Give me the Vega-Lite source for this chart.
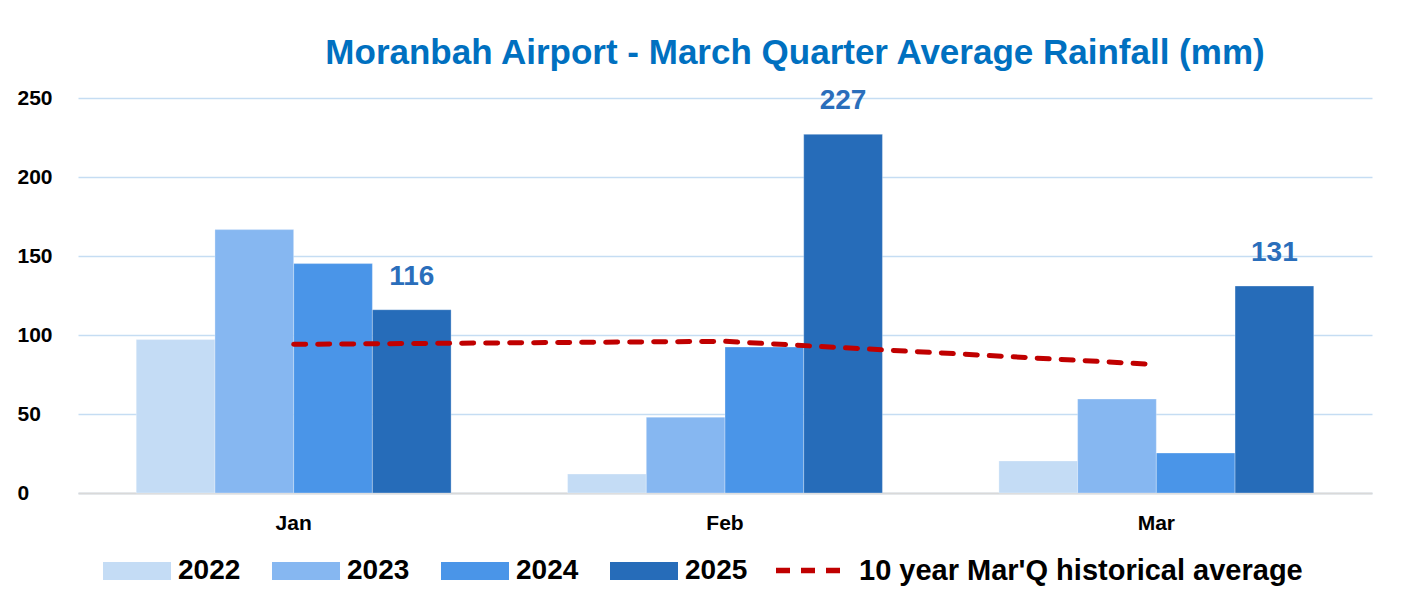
{
  "$schema": "https://vega.github.io/schema/vega-lite/v6.json",
  "width": 1294,
  "height": 395,
  "autosize": {"type": "none"},
  "padding": {"left": 78, "top": 98, "right": 33, "bottom": 112},
  "background": "white",
  "title": {
    "text": "Moranbah Airport - March Quarter Average Rainfall (mm)",
    "anchor": "middle",
    "dx": 70,
    "offset": 16,
    "font": "Liberation Sans",
    "fontSize": 35,
    "fontWeight": "bold",
    "color": "#0070C0"
  },
  "datasets": {
    "bars": [
      {"month": "Jan", "year": "2022", "value": 97.1},
      {"month": "Jan", "year": "2023", "value": 166.7},
      {"month": "Jan", "year": "2024", "value": 145.2},
      {"month": "Jan", "year": "2025", "value": 116},
      {"month": "Feb", "year": "2022", "value": 12},
      {"month": "Feb", "year": "2023", "value": 48},
      {"month": "Feb", "year": "2024", "value": 92.4},
      {"month": "Feb", "year": "2025", "value": 227},
      {"month": "Mar", "year": "2022", "value": 20.3},
      {"month": "Mar", "year": "2023", "value": 59.5},
      {"month": "Mar", "year": "2024", "value": 25.3},
      {"month": "Mar", "year": "2025", "value": 131}
    ],
    "avg": [
      {"month": "Jan", "avg": 94.1, "series": "10 year Mar'Q historical average"},
      {"month": "Feb", "avg": 96, "series": "10 year Mar'Q historical average"},
      {"month": "Mar", "avg": 81.3, "series": "10 year Mar'Q historical average"}
    ]
  },
  "config": {
    "view": {"stroke": null},
    "axis": {"labelFont": "Liberation Sans", "labelFontWeight": "bold", "labelColor": "#000000"},
    "legend": {"labelFont": "Liberation Sans", "labelFontWeight": "bold", "labelColor": "#000000", "labelFontSize": 28, "labelLimit": 0, "padding": 0}
  },
  "layer": [
    {
      "data": {"name": "bars"},
      "mark": {"type": "bar", "stroke": "#ffffff", "strokeWidth": 0.6, "strokeOpacity": 0.5},
      "encoding": {
        "x": {
          "field": "month", "type": "nominal", "sort": ["Jan", "Feb", "Mar"],
          "scale": {"paddingInner": 0.27, "paddingOuter": 0.135},
          "axis": {
            "title": null, "labelAngle": 0, "labelFontSize": 21, "labelPadding": 19,
            "ticks": false, "domainColor": "#D9D9D9", "domainWidth": 2, "grid": false
          }
        },
        "xOffset": {"field": "year", "type": "nominal", "scale": {"paddingInner": 0, "paddingOuter": 0}},
        "y": {
          "field": "value", "type": "quantitative",
          "scale": {"domain": [0, 250], "nice": false},
          "axis": {
            "title": null, "values": [0, 50, 100, 150, 200, 250], "domain": false,
            "ticks": false, "tickSize": 0, "labelAlign": "left", "labelPadding": 61,
            "labelFontSize": 21, "gridColor": "#C5DDF3", "gridWidth": 1.6
          }
        },
        "color": {
          "field": "year", "type": "nominal",
          "scale": {"domain": ["2022", "2023", "2024", "2025"], "range": ["#C4DCF5", "#86B7F1", "#4A95E8", "#266CB9"]},
          "legend": {
            "title": null, "orient": "none", "direction": "horizontal", "columns": 4,
            "legendX": 25, "legendY": 439,
            "symbolType": "M-1,-0.265H1V0.265H-1Z", "symbolSize": 4624, "symbolStrokeWidth": 0,
            "labelOffset": 7, "columnPadding": 31
          }
        }
      }
    },
    {
      "data": {"name": "bars"},
      "transform": [{"filter": "datum.year == '2025'"}],
      "mark": {"type": "text", "dy": -33, "fontSize": 28, "fontWeight": "bold", "font": "Liberation Sans", "color": "#2A6EBB"},
      "encoding": {
        "x": {"field": "month", "type": "nominal", "sort": ["Jan", "Feb", "Mar"]},
        "xOffset": {"field": "year", "type": "nominal"},
        "y": {"field": "value", "type": "quantitative"},
        "text": {"field": "value", "type": "quantitative", "format": "d"}
      }
    },
    {
      "data": {"name": "avg"},
      "mark": {"type": "line", "strokeWidth": 5, "strokeDash": [12, 12], "strokeCap": "round"},
      "encoding": {
        "x": {"field": "month", "type": "nominal", "sort": ["Jan", "Feb", "Mar"]},
        "y": {"field": "avg", "type": "quantitative"},
        "stroke": {
          "field": "series", "type": "nominal",
          "scale": {"range": ["#C00000"]},
          "legend": {
            "title": null, "orient": "none", "legendX": 695, "legendY": 437,
            "symbolType": "stroke", "symbolSize": 4225, "symbolStrokeWidth": 5.5,
            "symbolDash": [14, 11], "labelOffset": 15, "labelFontSize": 29,
            "symbolStrokeColor": "#C00000"
          }
        }
      }
    }
  ]
}
